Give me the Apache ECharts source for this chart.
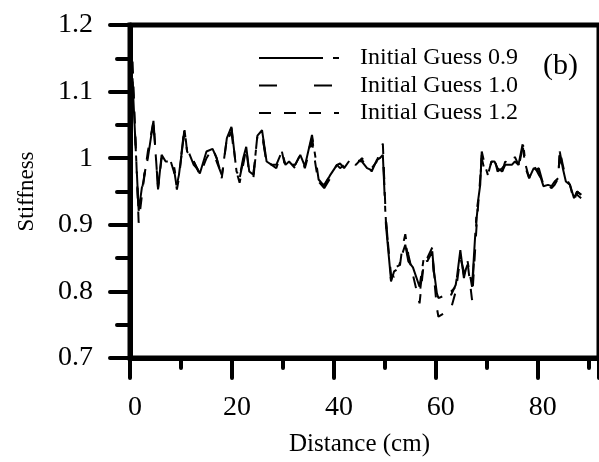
<!DOCTYPE html>
<html>
<head>
<meta charset="utf-8">
<title>Stiffness profile</title>
<script src="https://cdn.jsdelivr.net/npm/echarts@6/dist/echarts.min.js"></script>
<style>
  html, body { margin: 0; padding: 0; background: #fff; }
  #chart { width: 599px; height: 462px; }
</style>
</head>
<body>
<div id="chart"></div>
<script>
// Sample positions along the beam (cm)
const distance = [0.5,1.7,2.5,3.5,4.6,5.5,6.2,7,8,8.6,9.2,9.6,10.7,11.2,12.5,13.7,15,16.2,17,18,
  19,19.9,20.9,21.5,22.2,22.8,23.4,24.2,25,25.9,26.8,27.8,28.7,29.8,30.5,31.2,32.4,33.4,34.3,35.7,
  36.5,37,38.1,39.3,40.6,41.2,42,43.1,44.3,45.5,46.5,47.4,48.4,49,49.6,50.2,51.2,51.8,52.8,53.4,
  54,54.6,55.5,56.8,57.7,58.3,59.3,59.6,60.2,60.5,61.8,63,63.9,64.8,65.5,66.2,67.1,68,68.7,69,
  69.6,70.2,70.9,71.5,72.1,73,73.6,74.9,75.5,76.2,77.1,77.6,78.3,79.2,80.2,81.1,82,82.7,83.3,84,
  84.3,84.9,85.5,86.3,87.1,87.7,88.5];

// Identified stiffness, starting from initial guess 0.9
const guess09 = [1.115,0.921,0.965,1.0,1.056,0.953,1.005,0.995,0.995,0.99,0.96,0.975,1.042,1.01,0.995,0.977,1.01,1.014,1.0,0.973,
  1.03,1.047,0.98,0.972,1.0,1.017,0.98,0.975,1.034,1.042,0.995,0.99,0.99,1.01,0.99,0.99,0.99,1.005,0.988,1.035,
  0.995,0.968,0.958,0.975,0.99,0.992,0.985,0.997,0.995,0.997,0.99,0.98,0.997,1.0,1.005,0.9,0.817,0.835,0.839,0.856,
  0.87,0.845,0.836,0.807,0.854,0.845,0.86,0.832,0.797,0.79,0.794,0.8,0.807,0.862,0.82,0.846,0.807,0.92,0.96,1.01,
  0.99,0.975,0.995,0.995,0.985,0.98,0.99,0.99,0.995,0.99,1.024,0.99,0.97,0.985,0.98,0.958,0.96,0.958,0.965,0.97,
  1.01,0.985,0.965,0.96,0.94,0.95,0.945];

// Identified stiffness, starting from initial guess 1.0
const guess10 = [1.12,0.915,0.96,1.005,1.05,0.96,1.0,0.995,0.99,0.985,0.955,0.975,1.047,1.015,0.99,0.98,1.005,1.01,0.995,0.975,
  1.025,1.04,0.975,0.97,0.995,1.01,0.985,0.97,1.03,1.04,0.99,0.985,0.995,1.005,0.99,0.995,0.985,1.0,0.99,1.03,
  0.99,0.965,0.955,0.97,0.985,0.99,0.99,0.995,0.997,0.995,0.985,0.982,1.0,1.005,1.01,0.91,0.815,0.83,0.835,0.86,
  0.875,0.85,0.83,0.795,0.85,0.84,0.855,0.83,0.79,0.785,0.79,0.795,0.81,0.855,0.825,0.84,0.8,0.91,0.965,1.005,
  0.985,0.98,0.99,1.0,0.98,0.985,0.99,0.985,1.0,0.985,1.02,0.995,0.975,0.98,0.985,0.96,0.955,0.96,0.965,0.975,
  1.005,0.98,0.96,0.955,0.945,0.945,0.94];

// Identified stiffness, starting from initial guess 1.2
const guess12 = [1.145,0.903,0.955,1.01,1.055,0.955,1.0,0.99,0.995,0.98,0.953,0.97,1.045,1.01,0.995,0.975,1.0,1.015,1.0,0.97,
  1.03,1.045,0.98,0.963,0.99,1.015,0.975,0.975,1.035,1.035,0.995,0.99,0.985,1.01,0.985,0.99,0.99,1.005,0.985,1.025,
  0.985,0.962,0.96,0.975,0.99,0.985,0.99,0.995,0.99,1.0,0.99,0.985,0.995,1.01,1.022,0.905,0.825,0.822,0.83,0.865,
  0.886,0.855,0.825,0.782,0.848,0.85,0.866,0.825,0.775,0.762,0.768,0.775,0.8,0.85,0.83,0.845,0.787,0.9,0.97,1.0,
  0.98,0.975,0.995,0.99,0.985,0.98,0.995,0.99,1.002,0.99,1.015,0.985,0.97,0.99,0.975,0.965,0.96,0.955,0.96,0.97,
  1.012,0.99,0.97,0.96,0.935,0.95,0.945];

const seriesNames = ['Initial Guess 0.9', 'Initial Guess 1.0', 'Initial Guess 1.2'];
const seriesValues = [guess09, guess10, guess12];
const seriesDash = [[64, 10, 6, 10], [18, 37], [12, 13]];

const FONT = "'Liberation Serif', 'Times New Roman', serif";

function pairs(xs, ys) {
  return xs.map((x, i) => [x, ys[i]]);
}

const chart = echarts.init(document.getElementById('chart'), null, { renderer: 'canvas' });

chart.setOption({
  animation: false,
  backgroundColor: '#fff',
  grid: {
    left: 130, top: 25, right: -22, bottom: 101,
    show: true, borderColor: '#000', borderWidth: 5, backgroundColor: 'transparent'
  },
  legend: {
    orient: 'vertical',
    left: 253, top: 41,
    itemWidth: 80, itemHeight: 4, itemGap: 3.5,
    // line-only keys: hide the marker dot drawn in the middle of each key
    itemStyle: { color: 'rgba(0,0,0,0)', borderWidth: 0 },
    textStyle: { fontFamily: FONT, fontSize: 24, color: '#000', lineHeight: 24, padding: [0, 0, 0, 16] },
    data: seriesNames
  },
  xAxis: {
    type: 'value', min: 0, max: 92, interval: 20,
    name: 'Distance (cm)', nameLocation: 'middle', nameGap: 74,
    nameTextStyle: { fontFamily: FONT, fontSize: 25, color: '#000', padding: [0, 10, 0, 0] },
    axisLine: { lineStyle: { color: '#000', width: 5 } },
    axisTick: { show: true, inside: false, length: 20, lineStyle: { color: '#000', width: 4, cap: 'round' } },
    minorTick: { show: true, splitNumber: 2, length: 10, lineStyle: { color: '#000', width: 4, cap: 'round' } },
    axisLabel: { fontFamily: FONT, fontSize: 28, color: '#000', margin: 36, showMaxLabel: false, padding: [0, 0, 0, 10] },
    splitLine: { show: false }
  },
  yAxis: {
    type: 'value', min: 0.7, max: 1.2, interval: 0.1,
    name: 'Stiffness', nameLocation: 'middle', nameGap: 92, nameRotate: 90,
    nameTextStyle: { fontFamily: FONT, fontSize: 23, color: '#000' },
    axisLine: { lineStyle: { color: '#000', width: 5 } },
    axisTick: { show: true, inside: false, length: 20, lineStyle: { color: '#000', width: 4, cap: 'round' } },
    minorTick: { show: true, splitNumber: 2, length: 13, lineStyle: { color: '#000', width: 4, cap: 'round' } },
    axisLabel: {
      fontFamily: FONT, fontSize: 28, color: '#000', margin: 37,
      formatter: v => (Math.abs(v - 1) < 1e-9 ? '1' : v.toFixed(1))
    },
    splitLine: { show: false }
  },
  graphic: [{
    type: 'text', left: 543, top: 51,
    style: { text: '(b)', font: '30px ' + FONT, fill: '#000' }
  }],
  series: seriesNames.map((name, i) => ({
    name: name,
    type: 'line',
    symbol: 'none',
    data: pairs(distance, seriesValues[i]),
    lineStyle: { color: '#000', width: 2, type: seriesDash[i] },
    itemStyle: { color: '#000' }
  }))
});
</script>
</body>
</html>
